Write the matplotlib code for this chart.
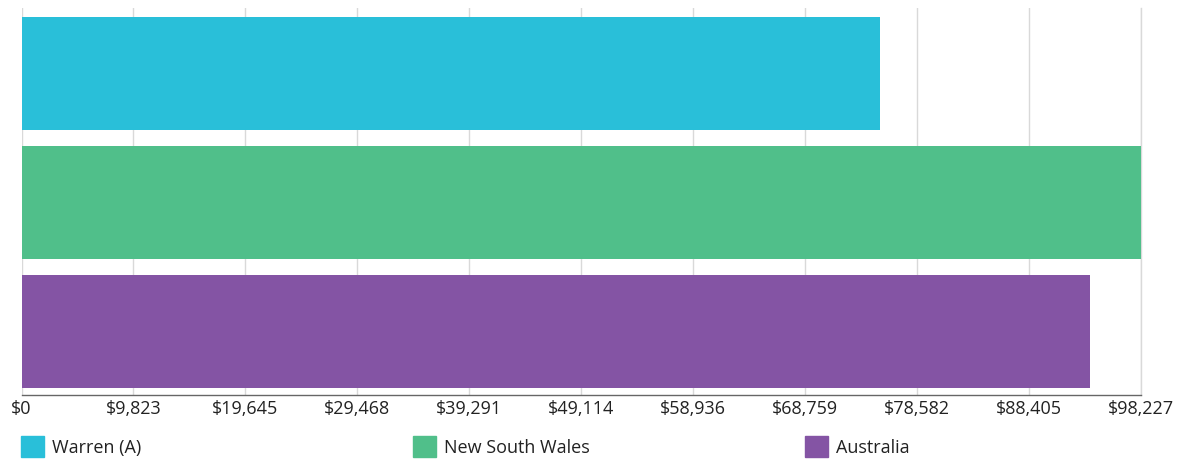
import matplotlib.pyplot as plt
from matplotlib.patches import Rectangle

regions = ["Warren (A)", "New South Wales", "Australia"]
income = [75325, 98227, 93752]
colours = ["#29bfd9", "#50bf8a", "#8454a4"]
x_max = 98227
tick_values = [0, 9823, 19645, 29468, 39291, 49114, 58936, 68759, 78582, 88405, 98227]

plt.rcParams['font.family'] = ['Open Sans', 'DejaVu Sans']

fig = plt.figure(figsize=(11.86, 4.6), dpi=100)
ax = fig.add_axes([21.5 / 1186, 1 - 396 / 460, 1119.5 / 1186, 387 / 460])

ypos = list(range(len(regions)))[::-1]
ax.barh(ypos, income, height=0.875, color=colours, zorder=2)
ax.set_xlim(0, x_max)
ax.set_ylim(-0.5 + 0.006, len(regions) - 0.5 + 0.006)

ax.set_xticks(tick_values)
ax.set_xticklabels(["${:,}".format(v) for v in tick_values], fontsize=13, color="#222222")
ax.tick_params(axis="x", length=0, pad=3)
ax.set_yticks([])
ax.grid(axis="x", color="#d9d9d9", linewidth=1, zorder=0)
ax.axvline(x_max, color="#d9d9d9", linewidth=1, zorder=0, clip_on=False)

for side in ["top", "right", "left"]:
    ax.spines[side].set_visible(False)
ax.spines["bottom"].set_color("#666666")
ax.spines["bottom"].set_linewidth(1)

# legend along the bottom, spread evenly
for i, (name, col) in enumerate(zip(regions, colours)):
    x0 = 21 + i * 392
    fig.add_artist(Rectangle((x0 / 1186, 1 - 458 / 460), 23 / 1186, 21 / 460,
                             transform=fig.transFigure, color=col))
    fig.text((x0 + 31) / 1186, 1 - 448 / 460, name, fontsize=13,
             va="center", ha="left", color="#222222")

fig.savefig("out.png", dpi=100)
